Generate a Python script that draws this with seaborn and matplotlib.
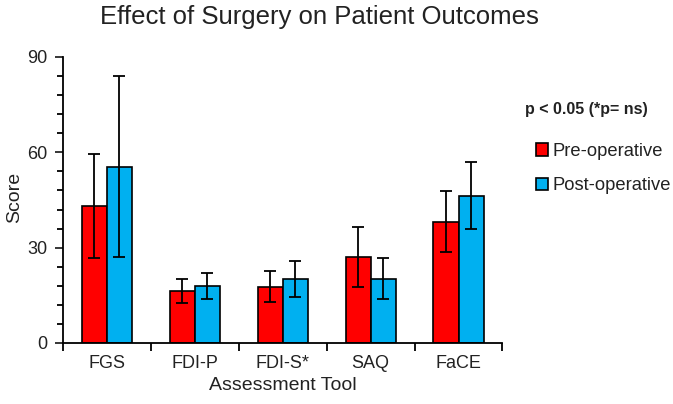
import numpy as np
import pandas as pd
import matplotlib
matplotlib.use("Agg")
import matplotlib.pyplot as plt
from matplotlib.ticker import MultipleLocator, FixedLocator
import seaborn as sns

tools = ["FGS", "FDI-P", "FDI-S*", "SAQ", "FaCE"]
pre_mean = [43.2, 16.4, 17.7, 27.1, 38.2]
pre_err = [16.4, 3.7, 4.8, 9.5, 9.6]
post_mean = [55.5, 17.9, 20.2, 20.2, 46.4]
post_err = [28.5, 4.1, 5.7, 6.4, 10.6]
groups = ["Pre-operative", "Post-operative"]
colors = ["#FF0000", "#00B0F0"]

df = pd.DataFrame({
    "tool": tools * 2,
    "group": [groups[0]] * len(tools) + [groups[1]] * len(tools),
    "score": pre_mean + post_mean,
    "err": pre_err + post_err,
})

sns.set_style("white")
plt.rcParams["font.family"] = ["Liberation Sans", "DejaVu Sans"]

fig = plt.figure(figsize=(6.73, 4.04), dpi=100)
ax = fig.add_axes([0.0936, 0.151, 0.653, 0.708])

sns.barplot(data=df, x="tool", y="score", hue="group", palette=colors,
            width=0.57, errorbar=None, edgecolor="black", linewidth=1.2,
            saturation=1, ax=ax)

# error bars at the bar centres
bars = [p for p in ax.patches if p.get_height() > 0][:len(df)]
for bar, err in zip(bars, df["err"]):
    cx = bar.get_x() + bar.get_width() / 2
    ax.errorbar(cx, bar.get_height(), yerr=err, fmt="none", ecolor="black",
                elinewidth=1.3, capsize=4, capthick=1.3)

ax.set_xlim(-0.5, len(tools) - 0.5)
ax.set_ylim(0, 90)
ax.yaxis.set_major_locator(MultipleLocator(30))
ax.yaxis.set_minor_locator(MultipleLocator(6))
ax.xaxis.set_minor_locator(FixedLocator(np.arange(-0.5, len(tools), 1)))
ax.tick_params(axis="x", which="major", length=0, pad=9, labelsize=13)
ax.tick_params(axis="x", which="minor", length=6, width=1.3, direction="out", color="black", bottom=True)
ax.tick_params(axis="y", which="major", length=6, width=1.3, direction="out", labelsize=13, left=True, pad=5)
ax.tick_params(axis="y", which="minor", length=4, width=1.3, direction="out", color="black", left=True)
for t in ax.get_xticklabels() + ax.get_yticklabels():
    t.set_color("#222222")

sns.despine(ax=ax)
for s in ["left", "bottom"]:
    ax.spines[s].set_color("black")
    ax.spines[s].set_linewidth(1.3)

ax.set_xlabel("Assessment Tool", fontsize=14, labelpad=3, color="#222222")
ax.set_ylabel("Score", fontsize=14, color="#222222")
ax.yaxis.set_label_coords(-0.09, 0.51)
fig.text(0.475, 0.958, "Effect of Surgery on Patient Outcomes", ha="center", va="center",
         fontsize=18.5, color="#222222")

fig.text(0.78, 0.728, "p < 0.05 (*p= ns)", fontsize=11.5, fontweight="bold", va="center",
         color="#222222")
leg = ax.legend(loc="upper left", bbox_to_anchor=(1.06, 0.725), frameon=False,
                fontsize=13.2, handlelength=0.65, handleheight=0.65, handletextpad=0.25,
                labelspacing=0.95, borderaxespad=0)
for t in leg.get_texts():
    t.set_color("#222222")

fig.savefig("out.png", dpi=100)
